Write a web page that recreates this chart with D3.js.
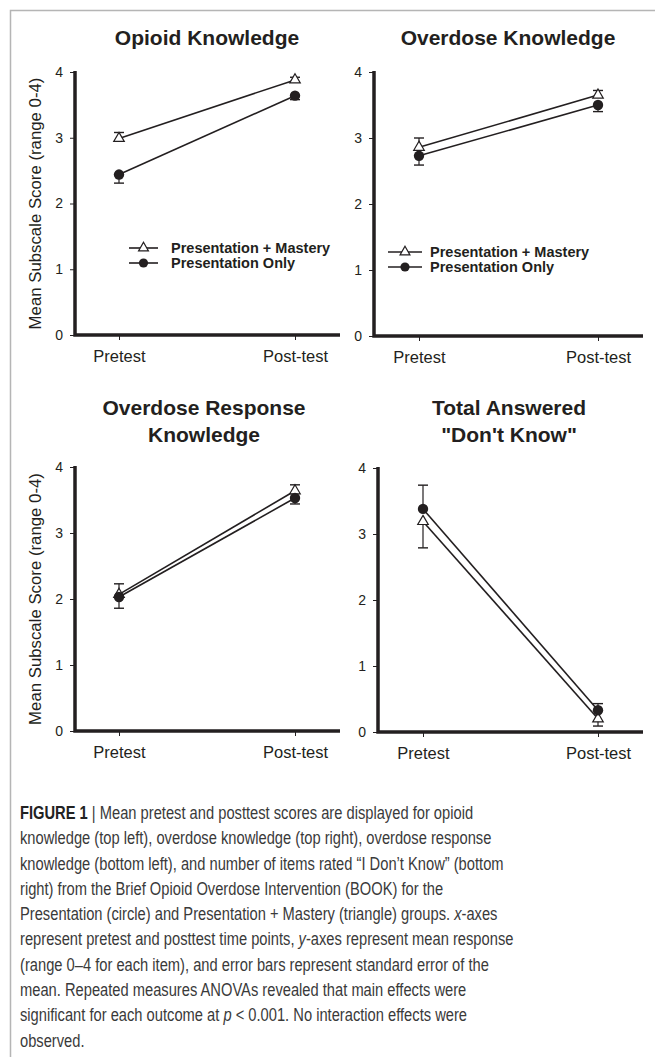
<!DOCTYPE html>
<html>
<head>
<meta charset="utf-8">
<script src="https://cdn.jsdelivr.net/npm/d3@7"></script>
<style>
  body { margin: 0; background: #fff; }
  svg { display: block; font-family: "Liberation Sans", Arial, sans-serif; }
</style>
</head>
<body>
<div id="chart"></div>
<script>
// data
const times = ["Pretest", "Post-test"];
const titles = [["Opioid Knowledge"], ["Overdose Knowledge"], ["Overdose Response", "Knowledge"], ["Total Answered", "\"Don't Know\""]];
const yTicks = [0, 1, 2, 3, 4];
const masteryMeans = [[2.99, 3.88], [2.86, 3.65], [2.07, 3.64], [3.19, 0.20]];
const masterySE = [[0.09, 0.04], [0.14, 0.07], [0.16, 0.09], [0.40, 0.11]];
const masteryErrDir = [1, 1, 1, -1];
const onlyMeans = [[2.44, 3.64], [2.73, 3.50], [2.03, 3.53], [3.38, 0.33]];
const onlySE = [[0.13, 0.06], [0.14, 0.10], [0.17, 0.09], [0.36, 0.10]];
const onlyErrDir = [-1, -1, -1, 1];
const legendLabels = ["Presentation + Mastery", "Presentation Only"];

const captionLines = [
  [["FIGURE 1", "b"], [" | Mean pretest and posttest scores are displayed for opioid", ""]],
  [["knowledge (top left), overdose knowledge (top right), overdose response", ""]],
  [["knowledge (bottom left), and number of items rated \u201cI Don\u2019t Know\u201d (bottom", ""]],
  [["right) from the Brief Opioid Overdose Intervention (BOOK) for the", ""]],
  [["Presentation (circle) and Presentation + Mastery (triangle) groups. ", ""], ["x", "i"], ["-axes", ""]],
  [["represent pretest and posttest time points, ", ""], ["y", "i"], ["-axes represent mean response", ""]],
  [["(range 0\u20134 for each item), and error bars represent standard error of the", ""]],
  [["mean. Repeated measures ANOVAs revealed that main effects were", ""]],
  [["significant for each outcome at ", ""], ["p", "i"], [" < 0.001. No interaction effects were", ""]],
  [["observed.", ""]]
];

// layout of the four panels
const layout = [
  { axisX: 75, xEnd: 340, y0: 335, y4: 72, pre: 119, post: 295, tx: 207, ty: 45, yLabel: true, legend: { x1: 129, x2: 158, tx: 171, y: 248 } },
  { axisX: 374, xEnd: 643, y0: 336, y4: 72, pre: 419, post: 598, tx: 508, ty: 45, yLabel: false, legend: { x1: 388, x2: 422, tx: 430, y: 252 } },
  { axisX: 75, xEnd: 340, y0: 731, y4: 467, pre: 119, post: 295, tx: 204, ty: 415, yLabel: true, legend: null },
  { axisX: 378, xEnd: 643, y0: 732, y4: 468, pre: 423, post: 598, tx: 509, ty: 415, yLabel: false, legend: null }
];

const ink = "#231f20";
const W = 655, H = 1057;

const svg = d3.select("#chart").append("svg")
  .attr("width", W)
  .attr("height", H);

// frame lines
svg.append("path")
  .attr("d", `M10.5,${H} V10.5 H${W}`)
  .attr("fill", "none")
  .attr("stroke", "#b5b5b5")
  .attr("stroke-width", 1.5);

const tri = d3.symbol().type(d3.symbolTriangle).size(48);
const triLegend = d3.symbol().type(d3.symbolTriangle).size(42);

layout.forEach(function (p, i) {
  const g = svg.append("g");
  const x = d3.scalePoint().domain(times).range([p.pre, p.post]);
  const y = d3.scaleLinear().domain([0, 4]).range([p.y0, p.y4]);

  // title
  const t = g.append("text")
    .attr("x", p.tx)
    .attr("y", p.ty)
    .attr("text-anchor", "middle")
    .attr("font-size", 21)
    .attr("font-weight", "bold")
    .attr("fill", ink);
  titles[i].forEach((line, k) => {
    t.append("tspan").attr("x", p.tx).attr("dy", k === 0 ? 0 : 26.5).text(line);
  });

  // axes
  const ya = g.append("g")
    .attr("transform", `translate(${p.axisX},0)`)
    .call(d3.axisLeft(y).tickValues(yTicks).tickFormat(d3.format("d")).tickSize(5).tickPadding(7))
    .attr("font-family", null)
    .attr("font-size", 14);
  ya.select(".domain").remove();
  ya.selectAll("text").attr("fill", ink);
  ya.selectAll("line").attr("stroke", ink);

  const xa = g.append("g")
    .attr("transform", `translate(0,${p.y0})`)
    .call(d3.axisBottom(x).tickSize(5).tickPadding(10))
    .attr("font-family", null)
    .attr("font-size", 16.5);
  xa.select(".domain").remove();
  xa.selectAll("text").attr("fill", ink);
  xa.selectAll("line").attr("stroke", ink);

  g.append("path")
    .attr("d", `M${p.axisX},${p.y4 - 1} V${p.y0} H${p.xEnd}`)
    .attr("fill", "none")
    .attr("stroke", ink)
    .attr("stroke-width", 3.5);

  if (p.yLabel) {
    g.append("text")
      .attr("transform", `translate(41,${(p.y0 + p.y4) / 2}) rotate(-90)`)
      .attr("text-anchor", "middle")
      .attr("font-size", 16.8)
      .attr("fill", ink)
      .text("Mean Subscale Score (range 0-4)");
  }

  const series = [
    { means: masteryMeans[i], se: masterySE[i], dir: masteryErrDir[i], shape: "tri" },
    { means: onlyMeans[i], se: onlySE[i], dir: onlyErrDir[i], shape: "circle" }
  ];

  const line = d3.line().x((d, k) => x(times[k])).y(d => y(d));

  series.forEach(s => {
    g.append("path")
      .attr("d", line(s.means))
      .attr("fill", "none")
      .attr("stroke", ink)
      .attr("stroke-width", 1.6);
  });

  series.forEach(s => {
    s.means.forEach((m, k) => {
      const cx = x(times[k]);
      const end = y(m + s.dir * s.se[k]);
      g.append("line")
        .attr("x1", cx).attr("x2", cx)
        .attr("y1", y(m)).attr("y2", end)
        .attr("stroke", ink).attr("stroke-width", 1.2);
      g.append("line")
        .attr("x1", cx - 5).attr("x2", cx + 5)
        .attr("y1", end).attr("y2", end)
        .attr("stroke", ink).attr("stroke-width", 1.4);
    });
  });

  series.forEach(s => {
    s.means.forEach((m, k) => {
      const cx = x(times[k]);
      if (s.shape === "tri") {
        g.append("path")
          .attr("d", tri())
          .attr("transform", `translate(${cx},${y(m)})`)
          .attr("fill", "#fff")
          .attr("stroke", ink)
          .attr("stroke-width", 1.2);
      } else {
        g.append("circle")
          .attr("cx", cx).attr("cy", y(m)).attr("r", 5.2)
          .attr("fill", ink);
      }
    });
  });

  // legend
  if (p.legend) {
    const L = p.legend;
    legendLabels.forEach((lab, k) => {
      const ly = L.y + k * 15;
      const mx = (L.x1 + L.x2) / 2;
      g.append("line")
        .attr("x1", L.x1).attr("x2", L.x2)
        .attr("y1", ly).attr("y2", ly)
        .attr("stroke", ink).attr("stroke-width", 1.6);
      if (k === 0) {
        g.append("path")
          .attr("d", triLegend())
          .attr("transform", `translate(${mx},${ly})`)
          .attr("fill", "#fff")
          .attr("stroke", ink)
          .attr("stroke-width", 1.2);
      } else {
        g.append("circle")
          .attr("cx", mx).attr("cy", ly).attr("r", 4.6)
          .attr("fill", ink);
      }
      g.append("text")
        .attr("x", L.tx)
        .attr("y", ly + 5)
        .attr("font-size", 14.5)
        .attr("font-weight", "bold")
        .attr("fill", ink)
        .text(lab);
    });
  }
});

// caption (reference uses a condensed face, so squeeze horizontally)
const cap = svg.append("g")
  .attr("transform", "translate(20,0) scale(0.84,1)")
  .attr("font-size", 17.5)
  .attr("fill", "#3a3a3a");

captionLines.forEach((segs, i) => {
  const t = cap.append("text")
    .attr("x", 0)
    .attr("y", 819 + i * 25.3);
  segs.forEach(([txt, st]) => {
    const sp = t.append("tspan").text(txt);
    if (st === "b") sp.attr("font-weight", "bold").attr("fill", "#222");
    if (st === "i") sp.attr("font-style", "italic");
  });
});
</script>
</body>
</html>
